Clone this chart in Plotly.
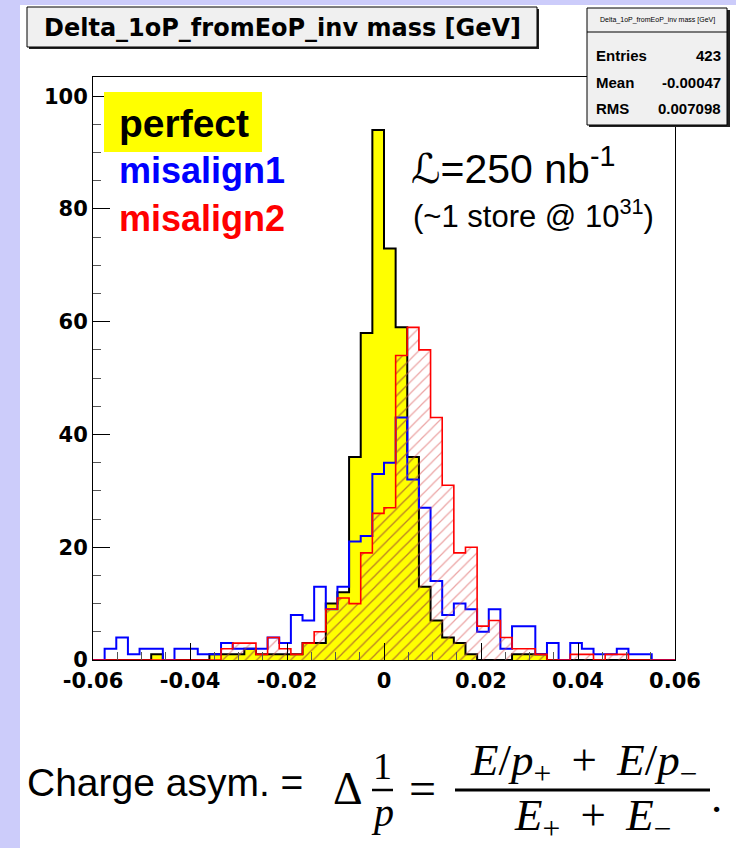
import numpy as np
import plotly.graph_objects as go

# Histogram binning: 50 bins between -0.06 and 0.06 GeV
bin_edges = np.linspace(-0.06, 0.06, 51)

perfect = [0, 0, 0, 0, 0, 1, 0, 0, 0, 0,
           1, 1, 1, 2, 1, 1, 1, 1, 3, 3,
           10, 12, 36, 58, 94, 73, 59, 36, 13, 7,
           4, 3, 1, 0, 0, 0, 1, 1, 1, 0,
           0, 0, 0, 0, 0, 0, 0, 0, 0, 0]
misalign1 = [0, 2, 4, 1, 2, 2, 0, 2, 2, 1,
             1, 3, 2, 2, 2, 4, 3, 8, 7, 13,
             9, 13, 21, 22, 33, 35, 43, 32, 27, 14,
             8, 10, 9, 5, 9, 2, 6, 6, 1, 3,
             0, 3, 2, 1, 1, 2, 1, 1, 0, 0]
misalign2 = [0, 0, 0, 0, 0, 0, 0, 0, 0, 0,
             0, 2, 3, 3, 1, 4, 2, 1, 3, 5,
             9, 11, 10, 19, 26, 27, 54, 59, 55, 43,
             31, 19, 20, 6, 7, 4, 2, 2, 1, 0,
             0, 1, 1, 0, 1, 1, 0, 0, 0, 0]

x_tick_vals = [-0.06, -0.04, -0.02, 0, 0.02, 0.04, 0.06]
x_tick_text = ["-0.06", "-0.04", "-0.02", "0", "0.02", "0.04", "0.06"]
y_tick_vals = [0, 20, 40, 60, 80, 100]
y_tick_text = ["0", "20", "40", "60", "80", "100"]

stats_rows = [("Entries", "423"), ("Mean", "-0.00047"), ("RMS", "0.007098")]

# page geometry (pixels) and plot frame
W, H = 736, 848
PL, PR, PT, PB = 93, 675, 77, 660
Y_MAX = 103.4


def fx(px):
    return (px - PL) / (PR - PL)


def fy(py):
    return (PB - py) / (PB - PT)


def step_path(vals):
    v = list(vals)
    xs = [bin_edges[0]] + list(bin_edges) + [bin_edges[-1]]
    ys = [0] + v + [v[-1], 0]
    return xs, ys


fig = go.Figure()

# perfect: solid yellow with black outline
xs, ys = step_path(perfect)
fig.add_trace(go.Scatter(x=xs, y=ys, mode="lines", line_shape="hv",
                         line=dict(color="black", width=2),
                         fill="tozeroy", fillcolor="#ffff00",
                         hoverinfo="skip", showlegend=False))

# misalign1: blue outline
xs, ys = step_path(misalign1)
fig.add_trace(go.Scatter(x=xs, y=ys, mode="lines", line_shape="hv",
                         line=dict(color="#0000ff", width=2),
                         hoverinfo="skip", showlegend=False))

# misalign2: red hatched area
xs, ys = step_path(misalign2)
fig.add_trace(go.Scatter(x=xs, y=ys, mode="lines", line_shape="hv",
                         line=dict(color="rgba(0,0,0,0)", width=0),
                         fill="tozeroy", fillcolor="rgba(0,0,0,0)",
                         fillpattern=dict(shape="/", fgcolor="#d84848",
                                          bgcolor="rgba(0,0,0,0)",
                                          size=8, solidity=0.15),
                         hoverinfo="skip", showlegend=False))
# hatch where it lies on top of the yellow fill
xs, ys = step_path(np.minimum(perfect, misalign2))
fig.add_trace(go.Scatter(x=xs, y=ys, mode="lines", line_shape="hv",
                         line=dict(color="rgba(0,0,0,0)", width=0),
                         fill="tozeroy", fillcolor="rgba(0,0,0,0)",
                         fillpattern=dict(shape="/", fgcolor="#85701c",
                                          bgcolor="rgba(0,0,0,0)",
                                          size=8, solidity=0.15),
                         hoverinfo="skip", showlegend=False))
# misalign2 outline
xs, ys = step_path(misalign2)
fig.add_trace(go.Scatter(x=xs, y=ys, mode="lines", line_shape="hv",
                         line=dict(color="#ff0000", width=1.6),
                         hoverinfo="skip", showlegend=False))

tick_font = dict(family="DejaVu Sans", size=21, color="black", weight="bold")

fig.update_xaxes(range=[-0.06, 0.06], tickmode="array", tickvals=x_tick_vals,
                 ticktext=x_tick_text, ticks="inside", ticklen=17, tickwidth=1,
                 tickcolor="black", showline=True, linecolor="black",
                 linewidth=1, mirror=True, showgrid=False, zeroline=False,
                 tickfont=tick_font, ticklabelstandoff=2,
                 minor=dict(tickmode="linear", tick0=0, dtick=0.005,
                            ticks="inside", ticklen=8, tickcolor="#555555",
                            tickwidth=1, showgrid=False))
fig.update_yaxes(range=[0, Y_MAX], tickmode="array", tickvals=y_tick_vals,
                 ticktext=y_tick_text, ticks="inside", ticklen=17, tickwidth=1,
                 tickcolor="black", showline=True, linecolor="black",
                 linewidth=1, mirror=True, showgrid=False, zeroline=False,
                 tickfont=tick_font,
                 minor=dict(tickmode="linear", tick0=0, dtick=5,
                            ticks="inside", ticklen=8, tickcolor="#555555",
                            tickwidth=1, showgrid=False))

shapes = []
annotations = []

# white slide area on the lavender background
shapes.append(dict(type="rect", xref="paper", yref="paper", layer="below",
                   x0=fx(20), x1=fx(740), y0=fy(852), y1=fy(5),
                   fillcolor="white", line=dict(width=0)))

# title pave with shadow
shapes.append(dict(type="rect", xref="paper", yref="paper", layer="above",
                   x0=fx(29), x1=fx(539), y0=fy(49), y1=fy(9),
                   fillcolor="#202020", line=dict(width=0)))
shapes.append(dict(type="rect", xref="paper", yref="paper", layer="above",
                   x0=fx(27), x1=fx(537), y0=fy(47), y1=fy(7),
                   fillcolor="#f0f0f0", line=dict(color="black", width=1)))
annotations.append(dict(xref="paper", yref="paper", x=fx(282), y=fy(28),
                        text="Delta_1oP_fromEoP_inv mass [GeV]",
                        showarrow=False, xanchor="center", yanchor="middle",
                        font=dict(family="DejaVu Sans", size=24,
                                  color="black", weight="bold")))

# statistics box with shadow
shapes.append(dict(type="rect", xref="paper", yref="paper", layer="above",
                   x0=fx(589), x1=fx(730), y0=fy(127), y1=fy(10),
                   fillcolor="#202020", line=dict(width=0)))
shapes.append(dict(type="rect", xref="paper", yref="paper", layer="above",
                   x0=fx(587), x1=fx(727), y0=fy(125), y1=fy(8),
                   fillcolor="#f0f0f0", line=dict(color="black", width=1)))
shapes.append(dict(type="line", xref="paper", yref="paper", layer="above",
                   x0=fx(587), x1=fx(727), y0=fy(32), y1=fy(32),
                   line=dict(color="black", width=1)))
annotations.append(dict(xref="paper", yref="paper", x=fx(657), y=fy(20),
                        text="Delta_1oP_fromEoP_inv mass [GeV]",
                        showarrow=False, xanchor="center", yanchor="middle",
                        font=dict(family="Liberation Sans", size=7,
                                  color="black")))
for i, (label, value) in enumerate(stats_rows):
    py = 55 + i * 27
    annotations.append(dict(xref="paper", yref="paper", x=fx(594), y=fy(py),
                            text=label, showarrow=False, xanchor="left",
                            yanchor="middle",
                            font=dict(family="Liberation Sans", size=15,
                                      color="black", weight="bold")))
    annotations.append(dict(xref="paper", yref="paper", x=fx(723), y=fy(py),
                            text=value, showarrow=False, xanchor="right",
                            yanchor="middle",
                            font=dict(family="Liberation Sans", size=15,
                                      color="black", weight="bold")))

# legend labels
legend_font = "Liberation Sans"
shapes.append(dict(type="rect", xref="paper", yref="paper", layer="above",
                   x0=fx(104), x1=fx(262), y0=fy(152), y1=fy(92),
                   fillcolor="#ffff00", line=dict(width=0)))
annotations.append(dict(xref="paper", yref="paper", x=fx(117), y=fy(123),
                        text="<b>perfect</b>", showarrow=False,
                        xanchor="left", yanchor="middle",
                        font=dict(family=legend_font, size=39, color="black")))
annotations.append(dict(xref="paper", yref="paper", x=fx(117), y=fy(170),
                        text="<b>misalign1</b>", showarrow=False,
                        xanchor="left", yanchor="middle",
                        font=dict(family=legend_font, size=36, color="#0000ff")))
annotations.append(dict(xref="paper", yref="paper", x=fx(117), y=fy(218),
                        text="<b>misalign2</b>", showarrow=False,
                        xanchor="left", yanchor="middle",
                        font=dict(family=legend_font, size=36, color="#ff0000")))

# luminosity note
annotations.append(dict(xref="paper", yref="paper", x=fx(409), y=fy(166),
                        text="\u2112=250 nb<sup>-1</sup>", showarrow=False,
                        xanchor="left", yanchor="middle",
                        font=dict(family="Liberation Sans, DejaVu Sans",
                                  size=41, color="black")))
annotations.append(dict(xref="paper", yref="paper", x=fx(411), y=fy(214),
                        text="(~1 store @ 10<sup>31</sup>)", showarrow=False,
                        xanchor="left", yanchor="middle",
                        font=dict(family="Liberation Sans", size=31,
                                  color="black")))

# charge asymmetry definition
serif = "Liberation Serif"
annotations.append(dict(xref="paper", yref="paper", x=fx(25), y=fy(782),
                        text="Charge asym. =", showarrow=False,
                        xanchor="left", yanchor="middle",
                        font=dict(family="Liberation Sans", size=39,
                                  color="black")))
annotations.append(dict(xref="paper", yref="paper", x=fx(348), y=fy(788),
                        text="\u0394", showarrow=False,
                        xanchor="center", yanchor="middle",
                        font=dict(family=serif, size=46, color="black")))
annotations.append(dict(xref="paper", yref="paper", x=fx(382), y=fy(766),
                        text="1", showarrow=False,
                        xanchor="center", yanchor="middle",
                        font=dict(family=serif, size=38, color="black")))
shapes.append(dict(type="line", xref="paper", yref="paper", layer="above",
                   x0=fx(372), x1=fx(393), y0=fy(790), y1=fy(790),
                   line=dict(color="black", width=2.5)))
annotations.append(dict(xref="paper", yref="paper", x=fx(382), y=fy(812),
                        text="<i>p</i>", showarrow=False,
                        xanchor="center", yanchor="middle",
                        font=dict(family=serif, size=40, color="black")))
annotations.append(dict(xref="paper", yref="paper", x=fx(422), y=fy(788),
                        text="=", showarrow=False,
                        xanchor="center", yanchor="middle",
                        font=dict(family=serif, size=48, color="black")))
annotations.append(dict(xref="paper", yref="paper", x=fx(583), y=fy(763),
                        text="<i>E</i>/<i>p</i><sub>+</sub>\u2009 + \u2009<i>E</i>/<i>p</i><sub>\u2212</sub>",
                        showarrow=False, xanchor="center", yanchor="middle",
                        font=dict(family=serif, size=45, color="black")))
shapes.append(dict(type="line", xref="paper", yref="paper", layer="above",
                   x0=fx(455), x1=fx(710), y0=fy(790), y1=fy(790),
                   line=dict(color="black", width=3)))
annotations.append(dict(xref="paper", yref="paper", x=fx(592), y=fy(818),
                        text="<i>E</i><sub>+</sub>\u2009 + \u2009<i>E</i><sub>\u2212</sub>",
                        showarrow=False, xanchor="center", yanchor="middle",
                        font=dict(family=serif, size=45, color="black")))
annotations.append(dict(xref="paper", yref="paper", x=fx(716), y=fy(797),
                        text=".", showarrow=False,
                        xanchor="center", yanchor="middle",
                        font=dict(family=serif, size=45, color="black")))

fig.update_layout(width=W, height=H, autosize=False,
                  margin=dict(l=PL, r=W - PR, t=PT, b=H - PB, pad=0),
                  paper_bgcolor="#ccccfa", plot_bgcolor="white",
                  shapes=shapes, annotations=annotations, showlegend=False)

fig.write_html("out.html")
